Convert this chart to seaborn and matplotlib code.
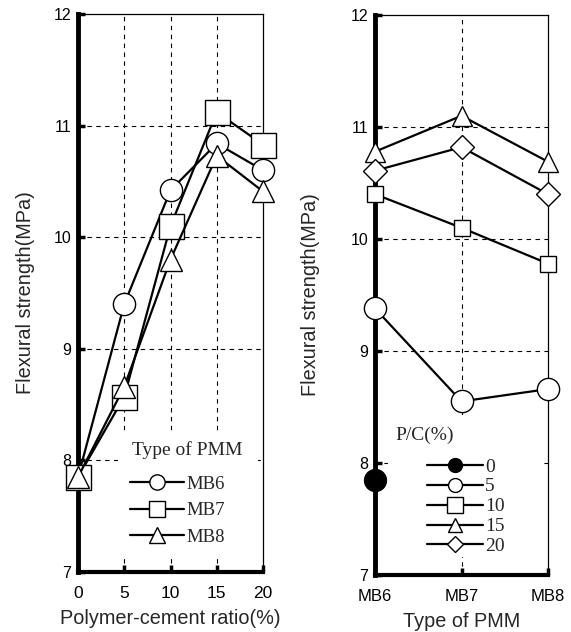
import matplotlib
matplotlib.use('Agg')
import matplotlib.pyplot as plt
import seaborn as sns
import numpy as np
import pandas as pd
from matplotlib.lines import Line2D
from matplotlib.patches import Rectangle

# ---------------- data ----------------
pc_ratio = [0, 5, 10, 15, 20]
left_mb6 = [7.85, 9.40, 10.42, 10.84, 10.60]
left_mb7 = [7.85, 8.57, 10.10, 11.12, 10.83]
left_mb8 = [7.85, 8.66, 9.80, 10.73, 10.41]
left_labels = ['MB6', 'MB7', 'MB8']

pmm_types = ['MB6', 'MB7', 'MB8']
right_pc0 = [7.85]
right_pc5 = [9.38, 8.55, 8.66]
right_pc10 = [10.40, 10.10, 9.78]
right_pc15 = [10.78, 11.10, 10.69]
right_pc20 = [10.61, 10.82, 10.40]
right_labels = ['0', '5', '10', '15', '20']

yticks = [7, 8, 9, 10, 11, 12]
left_xticks = [0, 5, 10, 15, 20]

sns.set_theme(style='white')
plt.rcParams['font.family'] = ['Liberation Sans', 'DejaVu Sans']
plt.rcParams['axes.edgecolor'] = 'black'

W, H = 571, 632
fig = plt.figure(figsize=(W / 100, H / 100), dpi=100)

def frac_box(x0, x1, y0, y1):
    return [x0 / W, 1 - y1 / H, (x1 - x0) / W, (y1 - y0) / H]

axL = fig.add_axes(frac_box(78, 263, 14, 572))
axR = fig.add_axes(frac_box(375, 548, 15, 575))

serif = ['Liberation Serif', 'DejaVu Serif']
grid_kw = dict(color='black', linewidth=0.8, linestyle=(0, (4, 4)))

def style_axes(ax):
    for side in ['top', 'right']:
        ax.spines[side].set_linewidth(0.9)
        ax.spines[side].set_color('black')
    ax.spines['left'].set_linewidth(3.5)
    ax.spines['bottom'].set_linewidth(3.0)
    ax.spines['left'].set_color('black')
    ax.spines['bottom'].set_color('black')
    ax.set_ylim(7, 12)
    ax.set_yticks(yticks)
    ax.tick_params(axis='both', direction='in', length=5, width=2.5,
                   colors='black', left=True, bottom=True)
    ax.tick_params(axis='y', labelsize=11.5, pad=5)
    ax.tick_params(axis='x', labelsize=12.5, pad=10)
    ax.set_axisbelow(True)
    ax.set_ylabel('Flexural strength(MPa)', fontsize=14.3)

def white_box(ax, x0, x1, y0, y1):
    ax.add_patch(Rectangle((x0 / W, 1 - y1 / H), (x1 - x0) / W, (y1 - y0) / H,
                           transform=fig.transFigure, facecolor='white',
                           edgecolor='none', zorder=1))

# ---------------- left panel ----------------
series_left = [left_mb6, left_mb7, left_mb8]
markers_left = ['o', 's', '^']
msize_left = [16, 18, 16]
for vals, mk, ms in zip(series_left, markers_left, msize_left):
    sns.lineplot(x=pc_ratio, y=vals, ax=axL, color='black', linewidth=1.6,
                 marker=mk, markersize=ms, markerfacecolor='white',
                 markeredgecolor='black', markeredgewidth=1.0, clip_on=False,
                 zorder=3)
axL.set_xlim(0, 20)
axL.set_xticks(left_xticks)
for xv in [5, 10, 15]:
    axL.axvline(xv, zorder=0, **grid_kw)
for yv in [8, 9, 10, 11]:
    axL.axhline(yv, zorder=0, **grid_kw)
style_axes(axL)
axL.set_xlabel('Polymer-cement ratio(%)', fontsize=14.3)
axL.yaxis.set_label_coords(-0.232, 0.5)
axL.xaxis.set_label_coords(0.5, -0.066)
white_box(axL, 118, 258, 432, 555)

hL = [Line2D([], [], color='black', lw=1.6, marker=m, markersize=s,
             markerfacecolor='white', markeredgecolor='black')
      for m, s in zip(markers_left, [11, 12, 11])]
legL = axL.legend(hL, left_labels, loc='upper left',
                  bbox_to_anchor=(126 / W, 1 - 472 / H),
                  bbox_transform=fig.transFigure, prop={'family': serif, 'size': 13.5},
                  frameon=False, handlelength=2.9, handletextpad=0.12,
                  labelspacing=0.5, borderpad=0.2, borderaxespad=0)
legL.set_zorder(5)
fig.text(187 / W, 1 - 450 / H, 'Type of PMM', family=serif, fontsize=14,
         ha='center', va='center', zorder=6)

# ---------------- right panel ----------------
xpos = np.arange(len(pmm_types))
sns.lineplot(x=[0], y=right_pc0, ax=axR, color='black', linewidth=1.6,
             marker='o', markersize=16, markerfacecolor='black',
             markeredgecolor='black', clip_on=False, zorder=3)
series_right = [right_pc5, right_pc10, right_pc15, right_pc20]
markers_right = ['o', 's', '^', 'D']
msize_right = [16, 12, 14, 12]
for vals, mk, ms in zip(series_right, markers_right, msize_right):
    sns.lineplot(x=xpos, y=vals, ax=axR, color='black', linewidth=1.6,
                 marker=mk, markersize=ms, markerfacecolor='white',
                 markeredgecolor='black', markeredgewidth=1.0, clip_on=False,
                 zorder=3)
axR.set_xlim(0, 2)
axR.set_xticks(xpos)
axR.set_xticklabels(pmm_types)
axR.axvline(1, zorder=0, **grid_kw)
for yv in [8, 9, 10, 11]:
    axR.axhline(yv, zorder=0, **grid_kw)
style_axes(axR)
axR.tick_params(axis='x', labelsize=12)
axR.set_xlabel('Type of PMM', fontsize=14.3)
axR.yaxis.set_label_coords(-0.318, 0.5)
axR.xaxis.set_label_coords(0.5, -0.066)
white_box(axR, 388, 540, 415, 557)

hR = [Line2D([], [], color='black', lw=1.6, marker='o', markersize=10,
             markerfacecolor='black', markeredgecolor='black')]
for m, s in zip(markers_right, [10, 12, 10, 8]):
    hR.append(Line2D([], [], color='black', lw=1.6, marker=m, markersize=s,
                     markerfacecolor='white', markeredgecolor='black'))
legR = axR.legend(hR, right_labels, loc='upper left',
                  bbox_to_anchor=(423 / W, 1 - 454 / H),
                  bbox_transform=fig.transFigure, prop={'family': serif, 'size': 14},
                  frameon=False, handlelength=2.9, handletextpad=0.1,
                  labelspacing=0.12, borderpad=0.2, borderaxespad=0)
legR.set_zorder(5)
fig.text(395 / W, 1 - 435 / H, 'P/C(%)', family=serif, fontsize=14,
         ha='left', va='center', zorder=6)

fig.savefig('out.png', dpi=100)
